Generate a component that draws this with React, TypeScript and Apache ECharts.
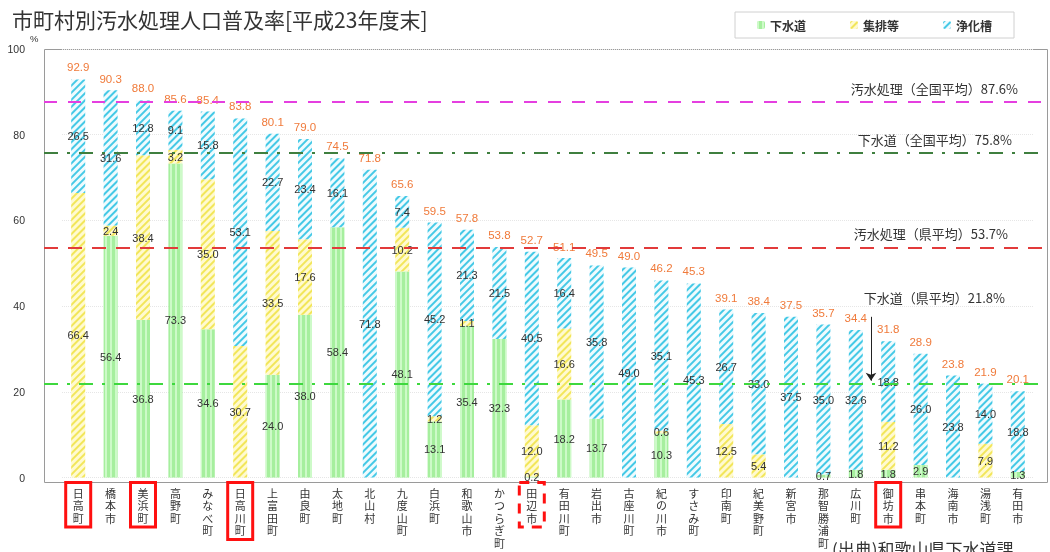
import React, { useEffect, useRef } from "react";
import * as echarts from "echarts";

const categories = ["日高町","橋本市","美浜町","高野町","みなべ町","日高川町","上富田町","由良町","太地町","北山村","九度山町","白浜町","和歌山市","かつらぎ町","田辺市","有田川町","岩出市","古座川町","紀の川市","すさみ町","印南町","紀美野町","新宮市","那智勝浦町","広川町","御坊市","串本町","海南市","湯浅町","有田市"];
const sewer = [0, 56.4, 36.8, 73.3, 34.6, 0, 24.0, 38.0, 58.4, 0, 48.1, 13.1, 35.4, 32.3, 0.2, 18.2, 13.7, 0, 10.3, 0, 0, 0, 0, 0.7, 1.8, 1.8, 2.9, 0, 0, 1.3];
const community = [66.4, 2.4, 38.4, 3.2, 35.0, 30.7, 33.5, 17.6, 0, 0, 10.2, 1.2, 1.1, 0, 12.0, 16.6, 0, 0, 0.6, 0, 12.5, 5.4, 0, 0, 0, 11.2, 0, 0, 7.9, 0];
const septic = [26.5, 31.6, 12.8, 9.1, 15.8, 53.1, 22.7, 23.4, 16.1, 71.8, 7.4, 45.2, 21.3, 21.5, 40.5, 16.4, 35.8, 49.0, 35.1, 45.3, 26.7, 33.0, 37.5, 35.0, 32.6, 18.8, 26.0, 23.8, 14.0, 18.8];
const totals = [92.9, 90.3, 88.0, 85.6, 85.4, 83.8, 80.1, 79.0, 74.5, 71.8, 65.6, 59.5, 57.8, 53.8, 52.7, 51.1, 49.5, 49.0, 46.2, 45.3, 39.1, 38.4, 37.5, 35.7, 34.4, 31.8, 28.9, 23.8, 21.9, 20.1];
const seriesNames = ["下水道", "集排等", "浄化槽"];
const highlighted = ["日高町", "美浜町", "日高川町", "御坊市"];
const dashedHighlighted = ["田辺市"];
const yTicks = [0, 20, 40, 60, 80, 100];
const refLines = [
  { value: 87.6, text: "汚水処理（全国平均）87.6%" },
  { value: 75.8, text: "下水道（全国平均）75.8%" },
  { value: 53.7, text: "汚水処理（県平均）53.7%" },
  { value: 21.8, text: "下水道（県平均）21.8%" },
];
const arrowRange = [37.5, 22.6];

const FONT = "'Noto Sans CJK JP', 'Noto Sans', sans-serif";
const NUMFONT = "'Liberation Sans', Arial, sans-serif";

export default function App() {
  const ref = useRef<HTMLDivElement>(null);
  useEffect(() => {
    const chart = echarts.init(ref.current!, null, { renderer: "svg" });
    const lineStyles = [
      { color: "#e53fe0", width: 2, type: [13, 11] },
      { color: "#3f7f3f", width: 2, type: [14, 9, 3, 9] },
      { color: "#e23a3a", width: 2, type: [14, 10] },
      { color: "#3ed83e", width: 2, type: [14, 9, 3, 9] },
    ];
    const labelDist = [
      [29, 7],
      [35, 7],
      [39, 7],
      [42, 80],
    ];
    const markData: any[] = refLines.map((r, i) => [
      {
        x: 44,
        yAxis: r.value,
        lineStyle: lineStyles[i],
        label: {
          show: true,
          position: "insideEndTop",
          formatter: r.text,
          color: "#333",
          fontSize: 13,
          fontFamily: FONT,
          distance: labelDist[i],
        },
      },
      { x: 1047, yAxis: r.value },
    ]);
    markData.push([
      {
        x: 871,
        yAxis: arrowRange[0],
        symbol: "none",
        lineStyle: { color: "#222", width: 1, type: "solid" },
        label: { show: false },
      },
      { x: 871, yAxis: arrowRange[1], symbol: "arrow" },
    ]);

    const insideLabel = {
      show: true,
      position: "inside",
      color: "#333",
      fontSize: 11,
      fontFamily: NUMFONT,
      formatter: (p: any) => (p.value > 0 ? Number(p.value).toFixed(1) : ""),
    };

    const catData = categories.map((c) => {
      const base: any = {
        value: c,
        textStyle: { padding: [4, 7, 3, 7] },
      };
      if (highlighted.includes(c)) {
        base.textStyle = { ...base.textStyle, borderColor: "#ff1010", borderWidth: 3 };
      } else if (dashedHighlighted.includes(c)) {
        base.textStyle = { ...base.textStyle, borderColor: "#ff1010", borderWidth: 3, borderType: [10, 8] };
      }
      return base;
    });

    chart.setOption({
      animation: false,
      textStyle: { fontFamily: FONT },
      title: {
        text: "市町村別汚水処理人口普及率[平成23年度末]",
        left: 7,
        top: 3,
        textStyle: { fontSize: 21, fontWeight: "normal", color: "#333", fontFamily: FONT },
      },
      legend: {
        data: seriesNames,
        left: 735,
        top: 12,
        padding: [7, 22, 7, 22],
        itemWidth: 8,
        itemHeight: 8,
        itemGap: 44,
        borderColor: "#d0d0d0",
        borderWidth: 1,
        textStyle: { fontSize: 12, fontWeight: "bold", color: "#333", fontFamily: FONT },
      },
      grid: { left: 62, right: 16, top: 49, bottom: 69 },
      xAxis: {
        type: "category",
        data: catData,
        axisLine: { show: false },
        axisTick: { show: false },
        axisLabel: {
          interval: 0,
          margin: 5,
          color: "#333",
          fontSize: 11,
          lineHeight: 12.5,
          fontFamily: FONT,
          formatter: (v: string) => v.split("").join("\n"),
        },
      },
      yAxis: {
        type: "value",
        min: yTicks[0],
        max: yTicks[yTicks.length - 1],
        interval: 20,
        axisLine: { show: false },
        axisTick: { show: false },
        axisLabel: { margin: 37, color: "#333", fontSize: 10.5, fontFamily: NUMFONT },
        splitLine: { lineStyle: { color: "#e6e6e6", type: "dotted" } },
      },
      series: [
        {
          name: seriesNames[0],
          type: "bar",
          stack: "total",
          barWidth: 14,
          barGap: "-100%",
          data: sewer,
          itemStyle: {
            color: "#a6ef9e",
            decal: { symbol: "rect", color: "rgba(215,252,210,0.8)", dashArrayX: [2, 3], dashArrayY: [1, 0], symbolSize: 1 },
          },
          label: insideLabel,
        },
        {
          name: seriesNames[1],
          type: "bar",
          stack: "total",
          barWidth: 14,
          barGap: "-100%",
          data: community,
          itemStyle: {
            color: "#fffad0",
            decal: { symbol: "rect", color: "#f2e65a", dashArrayX: [1, 0], dashArrayY: [2, 2.5], rotation: -Math.PI / 4, symbolSize: 1 },
          },
          label: insideLabel,
        },
        {
          name: seriesNames[2],
          type: "bar",
          stack: "total",
          barWidth: 14,
          barGap: "-100%",
          data: septic,
          itemStyle: {
            color: "#effbfe",
            decal: { symbol: "rect", color: "#45c9e6", dashArrayX: [1, 0], dashArrayY: [2, 2.5], rotation: -Math.PI / 4, symbolSize: 1 },
          },
          label: insideLabel,
        },
        {
          name: "合計",
          type: "bar",
          barWidth: 14,
          barGap: "-100%",
          data: totals,
          silent: true,
          itemStyle: { color: "rgba(0,0,0,0)" },
          label: {
            show: true,
            position: "top",
            distance: 6,
            color: "#f07a3a",
            fontSize: 11.5,
            fontFamily: NUMFONT,
            formatter: (p: any) => Number(p.value).toFixed(1),
          },
          z: 1,
          markLine: {
            silent: true,
            symbol: "none",
            symbolSize: 8,
            animation: false,
            data: markData,
          },
        },
      ],
      graphic: [
        {
          type: "rect",
          shape: { x: 44.5, y: 49.5, width: 1003, height: 433 },
          style: { fill: "none", stroke: "#9a9a9a", lineWidth: 1 },
          silent: true,
          z: 0,
        },
        {
          type: "text",
          x: 30,
          y: 33,
          style: { text: "%", fontSize: 9.5, fill: "#333", fontFamily: NUMFONT },
        },
        {
          type: "text",
          x: 832,
          y: 540,
          style: { text: "(出典)和歌山県下水道課", fontSize: 17, fill: "#333", fontFamily: FONT },
        },
      ],
    });
    return () => chart.dispose();
  }, []);
  return <div ref={ref} style={{ position: "fixed", left: 0, top: 0, width: 1050, height: 552 }} />;
}
